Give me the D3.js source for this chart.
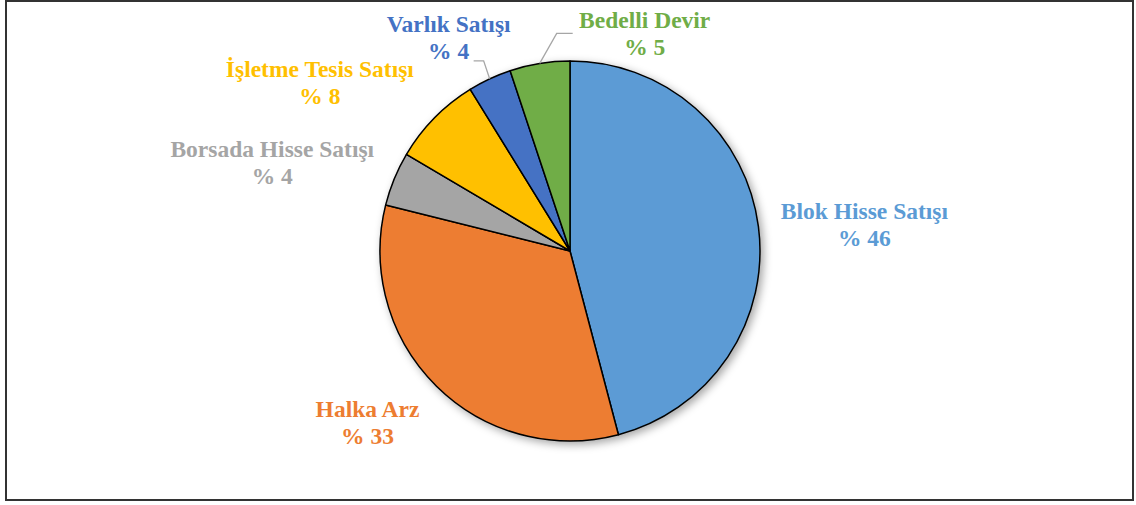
<!DOCTYPE html>
<html>
<head>
<meta charset="utf-8">
<script src="https://cdn.jsdelivr.net/npm/d3@7"></script>
<style>
  body { margin: 0; background: #fff; }
  svg { display: block; }
  .lbl { font-family: "Liberation Serif", "Times New Roman", serif; font-weight: bold; font-size: 23.5px; }
</style>
</head>
<body>
<script>
// slice data (clockwise from 12 o'clock)
var categories = ["Blok Hisse Satışı", "Halka Arz", "Borsada Hisse Satışı", "İşletme Tesis Satışı", "Varlık Satışı", "Bedelli Devir"];
var values = [45.9, 33.0, 4.6, 7.7, 3.7, 5.1];
var pctLabels = ["% 46", "% 33", "% 4", "% 8", "% 4", "% 5"];
var colors = ["#5B9BD5", "#ED7D31", "#A5A5A5", "#FFC000", "#4472C4", "#70AD47"];

var width = 1136, height = 505;
var cx = 570, cy = 251, radius = 190;

// label offset from the slice's outer edge point
var labelOffsets = [[106, -2], [-69, 37], [-122, -15.5], [-114.5, -35], [-41, -41], [105, -29]];
// leader lines only for the two small top slices: [elbow, end] relative to label centre
var leaders = { 4: [[35, 23], [25, 23]], 5: [[-88, -1], [-72, -1]] };

var data = categories.map(function(c, i) { return { name: c, value: values[i], pct: pctLabels[i], color: colors[i], i: i }; });

var svg = d3.select("body").append("svg")
    .attr("width", width)
    .attr("height", height);

var defs = svg.append("defs");
var filt = defs.append("filter").attr("id", "shadow")
    .attr("x", "-20%").attr("y", "-20%").attr("width", "140%").attr("height", "140%");
filt.append("feDropShadow")
    .attr("dx", 3).attr("dy", 3)
    .attr("stdDeviation", 4)
    .attr("flood-color", "#000")
    .attr("flood-opacity", 0.35);

// chart border
svg.append("rect")
    .attr("x", 6).attr("y", 1)
    .attr("width", 1127).attr("height", 499)
    .attr("fill", "none")
    .attr("stroke", "#333")
    .attr("stroke-width", 2);

var pie = d3.pie().sort(null).value(function(d) { return d.value; });
var arcs = pie(data);

var arc = d3.arc().innerRadius(0).outerRadius(radius);

var g = svg.append("g")
    .attr("transform", "translate(" + cx + "," + cy + ")");

g.append("g")
    .attr("filter", "url(#shadow)")
    .selectAll("path")
    .data(arcs)
    .enter().append("path")
    .attr("d", arc)
    .attr("fill", function(d) { return d.data.color; })
    .attr("stroke", "#000")
    .attr("stroke-width", 1.5)
    .attr("stroke-linejoin", "round");

function edgePoint(d) {
    var a = (d.startAngle + d.endAngle) / 2;
    return [radius * Math.sin(a), -radius * Math.cos(a)];
}

// leader lines
arcs.forEach(function(d, i) {
    if (!leaders[i]) return;
    var p = edgePoint(d);
    var lx = p[0] + labelOffsets[i][0], ly = p[1] + labelOffsets[i][1];
    var pts = [p, [lx + leaders[i][0][0], ly + leaders[i][0][1]], [lx + leaders[i][1][0], ly + leaders[i][1][1]]];
    g.append("path")
        .attr("d", d3.line()(pts))
        .attr("fill", "none")
        .attr("stroke", "#A6A6A6")
        .attr("stroke-width", 1.3);
});

// labels
var labels = g.selectAll(".lbl")
    .data(arcs)
    .enter().append("text")
    .attr("class", "lbl")
    .attr("text-anchor", "middle")
    .attr("fill", function(d) { return d.data.color; })
    .attr("transform", function(d, i) {
        var p = edgePoint(d);
        return "translate(" + (p[0] + labelOffsets[i][0]) + "," + (p[1] + labelOffsets[i][1]) + ")";
    });

labels.append("tspan")
    .attr("x", 0).attr("y", -6)
    .text(function(d) { return d.data.name; });
labels.append("tspan")
    .attr("x", 0).attr("y", 21)
    .text(function(d) { return d.data.pct; });
</script>
</body>
</html>
